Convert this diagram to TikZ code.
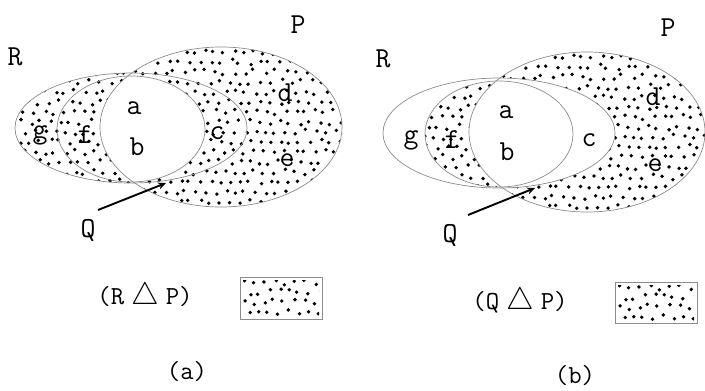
\documentclass[tikz,border=0pt]{standalone}
\usetikzlibrary{arrows.meta}

% stipple: jittered grid of dots from a corner, #3 columns by #4 rows
\newcommand{\dotfield}[4]{%
  \pgfmathsetseed{7}%
  \foreach \i in {0,...,#3}{%
    \foreach \j in {0,...,#4}{%
      \fill[black] ({#1+10*\i+5*mod(\j,2)+2.8*rand},{#2+10*\j+2.8*rand}) circle[radius=1.9];
    }%
  }%
}
\newcommand{\symdiff}{\hspace{7pt}\scalebox{1.25}{$\triangle$}\hspace{7pt}}

\begin{document}
\begin{tikzpicture}[x=1pt,y=-1pt]
\tikzset{
  setline/.style={draw=black!45,line width=0.7pt},
  setlabel/.style={font=\ttfamily\fontsize{29}{33}\selectfont,inner sep=0pt},
  opname/.style={font=\ttfamily\fontsize{26}{30}\selectfont,inner sep=0pt},
  pointer/.style={draw=black,line width=1.9pt,-{Stealth[length=8pt,width=7pt]}},
  keybox/.style={draw=black!45,line width=0.7pt}
}
\useasboundingbox (0,0) rectangle (705,391);
% panel (a)
\begin{scope}[even odd rule]
  \clip (131,128) ellipse[x radius=116,y radius=55] (131,129) ellipse[x radius=74,y radius=53];
  \dotfield{10}{42}{34}{18}
\end{scope}
\begin{scope}[even odd rule]
  \clip (131,129) ellipse[x radius=74,y radius=53];
  \clip (0,0) rectangle (705,391) (221,127) ellipse[x radius=121,y radius=80];
  \dotfield{10}{42}{34}{18}
\end{scope}
\begin{scope}[even odd rule]
  \clip (221,127) ellipse[x radius=121,y radius=80];
  \clip (0,0) rectangle (705,391) (131,128) ellipse[x radius=116,y radius=55];
  \dotfield{10}{42}{34}{18}
\end{scope}
\draw[setline] (131,128) ellipse[x radius=116,y radius=55];
\draw[setline] (131,129) ellipse[x radius=74,y radius=53];
\draw[setline] (221,127) ellipse[x radius=121,y radius=80];
\node[setlabel] (a_R) at (15,57) {R};
\node[setlabel] (a_P) at (298,25) {P};
\node[setlabel] (a_Q) at (88,230) {Q};
\node[setlabel] (a_g) at (40,135) {g};
\node[setlabel] (a_f) at (85,135) {f};
\node[setlabel] (a_a) at (134,108) {a};
\node[setlabel] (a_b) at (137,147) {b};
\node[setlabel] (a_c) at (217,133) {c};
\node[setlabel] (a_d) at (285,93) {d};
\node[setlabel] (a_e) at (287,160) {e};
\coordinate (a_tail) at (98,210);
\coordinate (a_tip) at (166,183);
\draw[pointer] (a_tail) -- (a_tip);
% panel (b)
\begin{scope}[shift={(368,5)}]
  \begin{scope}[even odd rule]
    \clip (131,129) ellipse[x radius=74,y radius=53];
    \clip (-400,-100) rectangle (400,400) (219,127) ellipse[x radius=118,y radius=80];
    \dotfield{10}{42}{34}{18}
  \end{scope}
  \begin{scope}[even odd rule]
    \clip (219,127) ellipse[x radius=118,y radius=80];
    \clip (-400,-100) rectangle (400,400) (131,128) ellipse[x radius=116,y radius=55];
    \dotfield{10}{42}{34}{18}
  \end{scope}
  \draw[setline] (131,128) ellipse[x radius=116,y radius=55];
  \draw[setline] (131,129) ellipse[x radius=74,y radius=53];
  \draw[setline] (219,127) ellipse[x radius=118,y radius=80];
  \node[setlabel] (b_R) at (15,54) {R};
  \node[setlabel] (b_P) at (300,23) {P};
  \node[setlabel] (b_Q) at (82,230) {Q};
  \node[setlabel] (b_g) at (43,135) {g};
  \node[setlabel] (b_f) at (84,135) {f};
  \node[setlabel] (b_a) at (138,107) {a};
  \node[setlabel] (b_b) at (139,147) {b};
  \node[setlabel] (b_c) at (221,135) {c};
  \node[setlabel] (b_d) at (285,92) {d};
  \node[setlabel] (b_e) at (287,160) {e};
  \coordinate (b_tail) at (100,210);
  \coordinate (b_tip) at (167,183);
  \draw[pointer] (b_tail) -- (b_tip);
\end{scope}
% keys and captions
\node[opname] (a_key) at (145,297) {(R\symdiff P)};
\node[opname] (b_key) at (520,302) {(Q\symdiff P)};
\begin{scope}
  \clip (243,280) rectangle (319,316);
  \dotfield{244}{282}{8}{4}
\end{scope}
\draw[keybox] (240,277) rectangle (322,319);
\begin{scope}
  \clip (618,285) rectangle (694,320);
  \dotfield{619}{287}{8}{4}
\end{scope}
\draw[keybox] (615,282) rectangle (697,323);
\node[opname] (a_cap) at (187,372) {(a)};
\node[opname] (b_cap) at (575,376) {(b)};
\end{tikzpicture}
\end{document}
